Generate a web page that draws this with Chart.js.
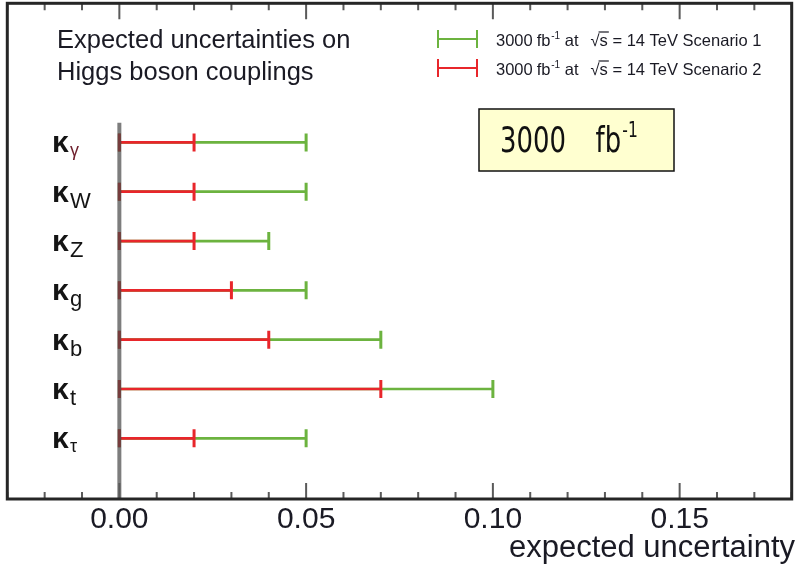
<!DOCTYPE html>
<html>
<head>
<meta charset="utf-8">
<script src="https://cdn.jsdelivr.net/npm/chart.js@4"></script>
<style>
  html, body { margin: 0; padding: 0; background: #fff; }
  #wrap { width: 798px; height: 564px; position: relative; }
</style>
</head>
<body>
<div id="wrap"><canvas id="chart"></canvas></div>
<script>
// Higgs coupling uncertainties, 3000 fb-1 at 14 TeV, two scenarios

const couplings = ["γ", "W", "Z", "g", "b", "t", "τ"];
const scenario1 = [0.05, 0.05, 0.04, 0.05, 0.07, 0.10, 0.05];
const scenario2 = [0.02, 0.02, 0.02, 0.03, 0.04, 0.07, 0.02];
const xTickValues = [0, 0.05, 0.10, 0.15];
const xTickLabels = ["0.00", "0.05", "0.10", "0.15"];
const legendLabels = ["Scenario 1", "Scenario 2"];
const titleLines = ["Expected uncertainties on", "Higgs boson couplings"];

const GREEN = "#6cb33f";
const RED = "#e8262b";
const SANS = "'Liberation Sans', Arial, Helvetica, sans-serif";
const TEXT = "#1a1a24";

// one segment per coupling: 0 -> value, broken by a null point
function segments(vals) {
  return vals.flatMap((v, i) => [
    { x: 0, y: i },
    { x: v, y: i },
    { x: null, y: null },
  ]);
}

function barDataset(vals, color, order) {
  return {
    data: segments(vals),
    showLine: true,
    spanGaps: false,
    borderColor: color,
    borderWidth: 2.7,
    pointStyle: "line",
    rotation: 90,
    pointRadius: 9,
    pointHoverRadius: 9,
    pointBorderColor: color,
    pointBorderWidth: 3,
    order,
  };
}

// draws "3000 fb^-1" with a raised exponent, returns end x
function drawLumi(ctx, x, y, size, gap, family = SANS) {
  ctx.font = `${size}px ${family}`;
  ctx.fillText("3000", x, y);
  x += ctx.measureText("3000").width + gap;
  ctx.fillText("fb", x, y);
  x += ctx.measureText("fb").width + size * 0.05;
  ctx.font = `${Math.round(size * 0.6)}px ${family}`;
  ctx.fillText("-1", x, y - size * 0.42);
  return x + ctx.measureText("-1").width;
}

function drawLegendRow(ctx, x, y, color, label) {
  // error-bar symbol
  ctx.strokeStyle = color;
  ctx.lineWidth = 2;
  ctx.beginPath();
  ctx.moveTo(438, y); ctx.lineTo(477, y);
  ctx.moveTo(438, y - 9); ctx.lineTo(438, y + 9);
  ctx.moveTo(477, y - 9); ctx.lineTo(477, y + 9);
  ctx.stroke();

  const base = y + 7;
  ctx.fillStyle = TEXT;
  let cx = drawLumi(ctx, x, base, 16.5, 4);
  ctx.font = `16.5px ${SANS}`;
  ctx.fillText(" at", cx, base);
  cx += ctx.measureText(" at").width + 12;
  // sqrt(s) with overline
  ctx.fillText("√", cx, base);
  const rootW = ctx.measureText("√").width;
  ctx.fillText("s", cx + rootW, base);
  const sW = ctx.measureText("s").width;
  ctx.strokeStyle = TEXT;
  ctx.lineWidth = 1.2;
  ctx.beginPath();
  ctx.moveTo(cx + rootW - 1, base - 14);
  ctx.lineTo(cx + rootW + sW + 1, base - 14);
  ctx.stroke();
  cx += rootW + sW;
  ctx.fillText(" = 14 TeV " + label, cx, base);
}

const decorations = {
  id: "decorations",
  afterDraw(chart) {
    const { ctx, chartArea: a, scales } = chart;
    const xs = scales.x, ys = scales.y;
    ctx.save();

    // tick marks on top and bottom edges, every 0.01, long every 0.05
    ctx.strokeStyle = "#5a5a5a";
    ctx.lineWidth = 2;
    ctx.beginPath();
    for (let k = -3; k <= 18; k++) {
      const px = xs.getPixelForValue(k / 100);
      const len = k % 5 === 0 ? 16 : 7;
      ctx.moveTo(px, a.bottom); ctx.lineTo(px, a.bottom - len);
      ctx.moveTo(px, a.top); ctx.lineTo(px, a.top + len);
    }
    ctx.stroke();

    // frame
    ctx.strokeStyle = "#262626";
    ctx.lineWidth = 3;
    ctx.strokeRect(a.left, a.top, a.right - a.left, a.bottom - a.top);

    // x tick labels and axis title
    ctx.fillStyle = TEXT;
    ctx.textBaseline = "alphabetic";
    ctx.textAlign = "center";
    ctx.font = `30px ${SANS}`;
    xTickValues.forEach((v, i) => {
      ctx.fillText(xTickLabels[i], xs.getPixelForValue(v), 528);
    });
    ctx.textAlign = "right";
    ctx.font = `31px ${SANS}`;
    ctx.fillText("expected uncertainty", 795, 557);

    // kappa labels per row
    ctx.textAlign = "left";
    couplings.forEach((sub, i) => {
      const cy = ys.getPixelForValue(i);
      ctx.fillStyle = "#141414";
      ctx.font = `bold 30px ${SANS}`;
      ctx.fillText("κ", 52, cy + 10);
      const greek = /[α-ω]/.test(sub);
      ctx.fillStyle = sub === "γ" ? "#6e1f2c" : "#141414";
      ctx.font = greek ? `18px ${SANS}` : `22px ${SANS}`;
      ctx.fillText(sub, 70, cy + (greek ? 14 : 16));
    });

    // title
    ctx.fillStyle = TEXT;
    ctx.font = `25.5px ${SANS}`;
    ctx.fillText(titleLines[0], 57, 48);
    ctx.fillText(titleLines[1], 57, 80);

    // legend
    drawLegendRow(ctx, 496, 39, GREEN, legendLabels[0]);
    drawLegendRow(ctx, 496, 68, RED, legendLabels[1]);

    // luminosity box, narrow text
    ctx.fillStyle = "#ffffd0";
    ctx.fillRect(479, 109, 195, 62);
    ctx.strokeStyle = "#111";
    ctx.lineWidth = 1.5;
    ctx.strokeRect(479, 109, 195, 62);
    ctx.fillStyle = "#111";
    ctx.save();
    ctx.translate(500, 152);
    ctx.scale(0.74, 1);
    drawLumi(ctx, 0, 0, 35, 40, "'DejaVu Sans', sans-serif");
    ctx.restore();

    ctx.restore();
  },
};

new Chart(document.getElementById("chart"), {
  type: "scatter",
  data: {
    datasets: [
      // vertical line at zero, drawn on top with some transparency
      {
        data: [{ x: 0, y: -0.4 }, { x: 0, y: 7.5 }],
        showLine: true,
        borderColor: "rgba(70,70,70,0.7)",
        borderWidth: 4,
        pointRadius: 0,
        order: 0,
      },
      barDataset(scenario2, RED, 1),
      barDataset(scenario1, GREEN, 2),
    ],
  },
  options: {
    responsive: true,
    maintainAspectRatio: false,
    animation: false,
    layout: { autoPadding: false, padding: { top: 3.3, left: 7.3, right: 6.3, bottom: 65 } },
    plugins: { legend: { display: false }, tooltip: { enabled: false } },
    scales: {
      x: { type: "linear", min: -0.03, max: 0.18, display: false },
      y: { type: "linear", min: -2.82, max: 7.23, reverse: true, display: false },
    },
  },
  plugins: [decorations],
});
</script>
</body>
</html>
